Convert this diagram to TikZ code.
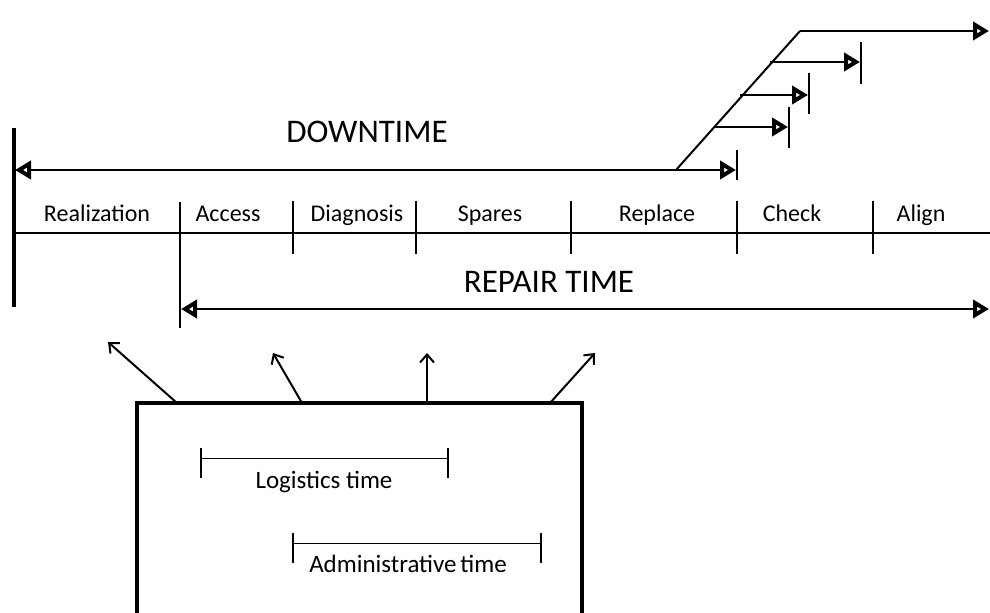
\documentclass[tikz,border=0pt]{standalone}
\usepackage{fontspec}
\setmainfont{Carlito}
\usetikzlibrary{arrows.meta}
\begin{document}
\begin{tikzpicture}[x=0.5pt,y=-0.5pt,
  line/.style={line width=1pt},
  tick/.style={line width=0.7pt},
  thinbar/.style={line width=0.5pt},
  hollowtip/.tip={Triangle[open,length=8pt,width=9pt,line width=2.4pt]},
  span/.style={line width=1pt, hollowtip-hollowtip},
  onehead/.style={line width=1pt, -hollowtip},
  pointer/.style={line width=1pt, -{Straight Barb[length=4pt,width=7pt,line width=1pt]}},
  phase/.style={font=\fontsize{12}{14}\selectfont, inner sep=0pt, anchor=base},
  title/.style={font=\fontsize{16.5}{18}\selectfont, inner sep=0pt, anchor=base},
  note/.style={font=\fontsize{12.5}{14}\selectfont, inner sep=0pt, anchor=base}
]
\useasboundingbox (0,0) rectangle (990,613);

% start of failure: thick vertical bar
\coordinate (barT) at (14,128);
\coordinate (barB) at (14,307);
\draw[line width=2pt] (barT) -- (barB);

% downtime span
\coordinate (dtL) at (15,170);
\coordinate (dtR) at (736,170);
\draw[span] (dtL) -- (dtR);
\coordinate (dtTickT) at (737,150);
\coordinate (dtTickB) at (737,180);
\draw[tick] (dtTickT) -- (dtTickB);
\node[title] (downtime) at (367,143) {DOWNTIME};

% staircase of downtime alternatives
\coordinate (sA) at (676,170);
\coordinate (sB) at (800,31);
\coordinate (sEnd) at (989,31);
\draw[line] (sA) -- (sB);
\draw[onehead] (sB) -- (sEnd);

\coordinate (s1) at (715,127);
\coordinate (s1e) at (788,127);
\draw[onehead] (s1) -- (s1e);
\coordinate (t1a) at (789,107);
\coordinate (t1b) at (789,148);
\draw[tick] (t1a) -- (t1b);

\coordinate (s2) at (740,95);
\coordinate (s2e) at (808,95);
\draw[onehead] (s2) -- (s2e);
\coordinate (t2a) at (809,73);
\coordinate (t2b) at (809,114);
\draw[tick] (t2a) -- (t2b);

\coordinate (s3) at (770,62);
\coordinate (s3e) at (860,62);
\draw[onehead] (s3) -- (s3e);
\coordinate (t3a) at (861,42);
\coordinate (t3b) at (861,84);
\draw[tick] (t3a) -- (t3b);

% time line with phases
\coordinate (tlL) at (14,233);
\coordinate (tlR) at (990,233);
\draw[line] (tlL) -- (tlR);

\coordinate (aT) at (180,202);
\coordinate (aB) at (180,328);
\draw[tick] (aT) -- (aB);
\foreach \x/\n in {293/d,416/s,571/r,737/c,873/g}{
  \coordinate (\n T) at (\x,201);
  \coordinate (\n B) at (\x,254);
  \draw[tick] (\n T) -- (\n B);
}

\node[phase] (realization) at (97,222) {Realization};
\node[phase] (access) at (228,222) {Access};
\node[phase] (diagnosis) at (357,222) {Diagnosis};
\node[phase] (spares) at (490,222) {Spares};
\node[phase] (replace) at (657,222) {Replace};
\node[phase] (check) at (792,222) {Check};
\node[phase] (align) at (921,222) {Align};

% repair time span
\coordinate (rtL) at (181,309);
\coordinate (rtR) at (989,309);
\draw[span] (rtL) -- (rtR);
\node[title] (repair) at (549,293) {REPAIR TIME};

% delay box
\coordinate (bxBL) at (137,613);
\coordinate (bxTL) at (137,403);
\coordinate (bxTR) at (582,403);
\coordinate (bxBR) at (582,613);
\draw[line width=2pt] (bxBL) -- (bxTL) -- (bxTR) -- (bxBR);

\coordinate (p1s) at (177,403);  \coordinate (p1e) at (108,342);
\coordinate (p2s) at (302,403);  \coordinate (p2e) at (273,353);
\coordinate (p3s) at (427,403);  \coordinate (p3e) at (427,353);
\coordinate (p4s) at (550,403);  \coordinate (p4e) at (595,353);
\draw[pointer] (p1s) -- (p1e);
\draw[pointer] (p2s) -- (p2e);
\draw[pointer] (p3s) -- (p3e);
\draw[pointer] (p4s) -- (p4e);

% logistics time
\coordinate (lgL) at (201,459);
\coordinate (lgR) at (448,459);
\draw[thinbar] (lgL) -- (lgR);
\draw[tick] (201,448) coordinate (lgLT) -- (201,478) coordinate (lgLB);
\draw[tick] (448,448) coordinate (lgRT) -- (448,478) coordinate (lgRB);
\node[note] (logistics) at (324,489) {Logistics time};

% administrative time
\coordinate (adL) at (293,544);
\coordinate (adR) at (541,544);
\draw[thinbar] (adL) -- (adR);
\draw[tick] (293,533) coordinate (adLT) -- (293,563) coordinate (adLB);
\draw[tick] (541,533) coordinate (adRT) -- (541,563) coordinate (adRB);
\node[note] (admin) at (408,573) {Administrative\hspace{0.15em}time};
\end{tikzpicture}
\end{document}
